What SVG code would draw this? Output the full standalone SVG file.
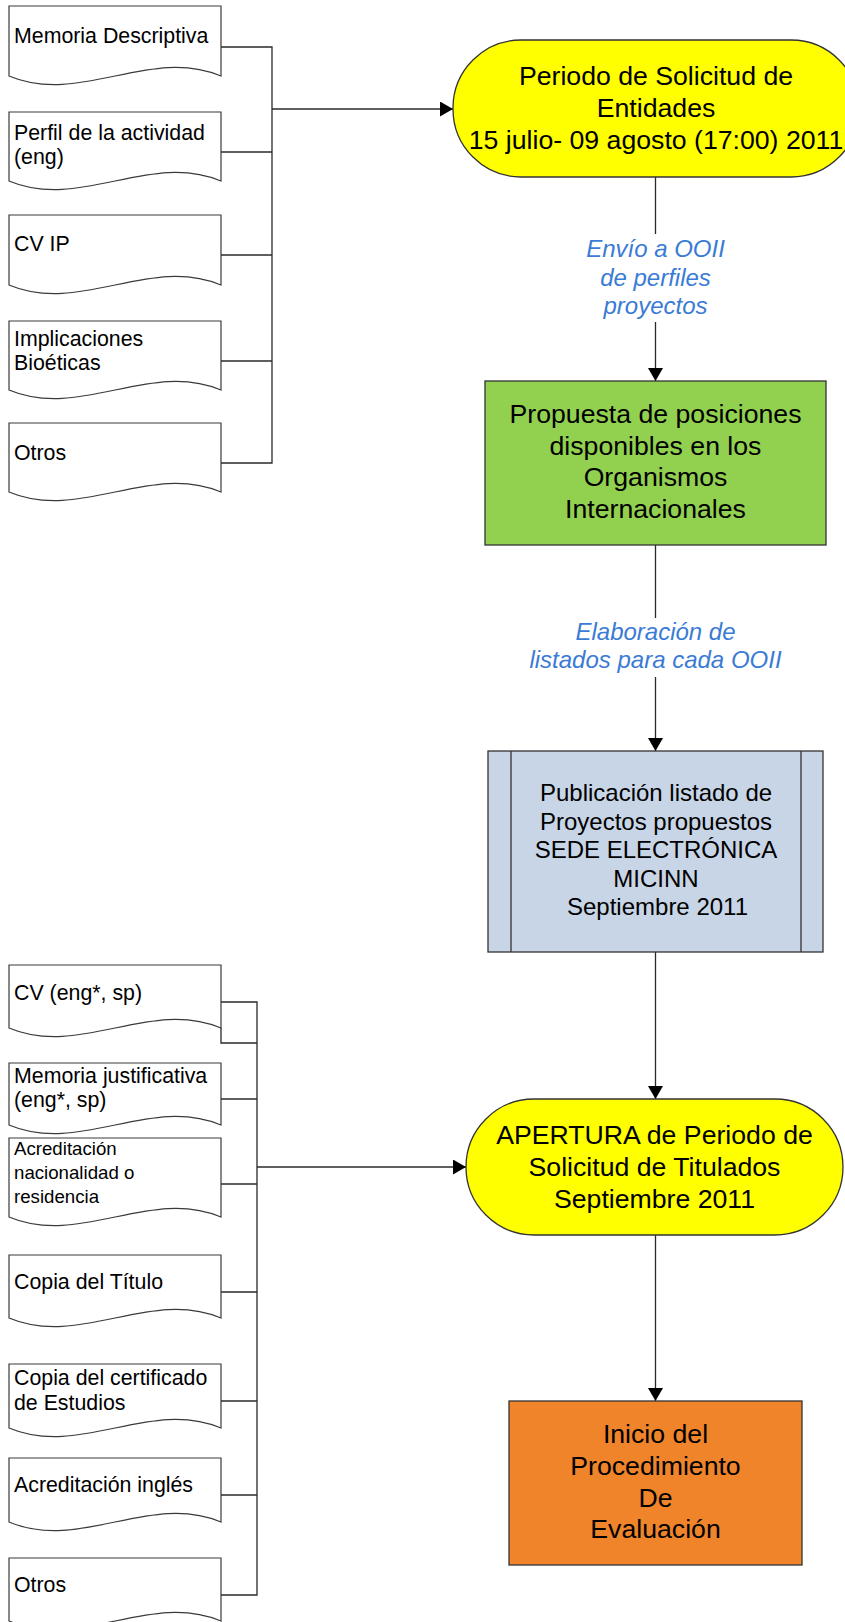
<svg xmlns="http://www.w3.org/2000/svg" width="845" height="1622" viewBox="0 0 845 1622">
<style>
.doc{fill:#fff;stroke:#3a3a3a;stroke-width:1.2}
.dt{font-family:"Liberation Sans",Arial,sans-serif;font-size:21.33px;fill:#000}
.ds{font-family:"Liberation Sans",Arial,sans-serif;font-size:18.67px;fill:#000}
.bt{font-family:"Liberation Sans",Arial,sans-serif;font-size:26.67px;fill:#000;text-anchor:middle}
.mt{font-family:"Liberation Sans",Arial,sans-serif;font-size:24px;fill:#000;text-anchor:middle}
.lab{font-family:"Liberation Sans",Arial,sans-serif;font-size:24px;font-style:italic;fill:#3a7bd5;text-anchor:middle}
.c{fill:none;stroke:#2a2a2a;stroke-width:1.3}
.box{stroke:#333;stroke-width:1.3}
</style>
<defs>
<marker id="ah" viewBox="0 0 13 15" refX="13" refY="7.5" markerWidth="13" markerHeight="15" orient="auto" markerUnits="userSpaceOnUse">
<path d="M0,0 L13,7.5 L0,15 Z" fill="#000"/>
</marker>
</defs>

<g id="connectors">
<path class="c" d="M221,47 H272 V463 H221"/>
<path class="c" d="M221,152 H272"/>
<path class="c" d="M221,255 H272"/>
<path class="c" d="M221,361 H272"/>
<path class="c" d="M272,109 H453" marker-end="url(#ah)"/>
<path class="c" d="M655.5,177 V234"/>
<path class="c" d="M655.5,322 V381" marker-end="url(#ah)"/>
<path class="c" d="M655.5,545 V618"/>
<path class="c" d="M655.5,677 V751" marker-end="url(#ah)"/>
<path class="c" d="M655.5,952 V1099" marker-end="url(#ah)"/>
<path class="c" d="M655.5,1235 V1401" marker-end="url(#ah)"/>
<path class="c" d="M221,1002 H257 V1595 H221"/>
<path class="c" d="M221,1028 V1043 H257"/>
<path class="c" d="M221,1099 H257"/>
<path class="c" d="M221,1184 H257"/>
<path class="c" d="M221,1292 H257"/>
<path class="c" d="M221,1401 H257"/>
<path class="c" d="M221,1495 H257"/>
<path class="c" d="M257,1167 H466" marker-end="url(#ah)"/>
</g>

<g id="label1">
<text class="lab" x="655.5" y="257">Envío a OOII</text>
<text class="lab" x="655.5" y="285.5">de perfiles</text>
<text class="lab" x="655.5" y="314">proyectos</text>
</g>
<g id="label2">
<text class="lab" x="655.5" y="640">Elaboración de</text>
<text class="lab" x="655.5" y="668">listados para cada OOII</text>
</g>

<g id="doc-memoria-descriptiva">
<path class="doc" d="M9,6 H221 V76 C150,46 80,106 9,76 Z"/>
<text class="dt" x="14" y="43">Memoria Descriptiva</text>
</g>
<g id="doc-perfil">
<path class="doc" d="M9,112 H221 V181 C150,151 80,211 9,181 Z"/>
<text class="dt" x="14" y="140">Perfil de la actividad</text>
<text class="dt" x="14" y="164">(eng)</text>
</g>
<g id="doc-cv-ip">
<path class="doc" d="M9,215 H221 V285 C150,255 80,315 9,285 Z"/>
<text class="dt" x="14" y="251">CV IP</text>
</g>
<g id="doc-implicaciones">
<path class="doc" d="M9,321 H221 V390 C150,360 80,420 9,390 Z"/>
<text class="dt" x="14" y="346">Implicaciones</text>
<text class="dt" x="14" y="370">Bioéticas</text>
</g>
<g id="doc-otros-1">
<path class="doc" d="M9,423 H221 V492 C150,462 80,522 9,492 Z"/>
<text class="dt" x="14" y="460">Otros</text>
</g>

<g id="node-periodo-entidades">
<rect class="box" x="453" y="40" width="406" height="137" rx="68" ry="68" fill="#FFFF00"/>
<text class="bt" x="656" y="85">Periodo de Solicitud de</text>
<text class="bt" x="656" y="117">Entidades</text>
<text class="bt" x="656" y="149">15 julio- 09 agosto (17:00) 2011</text>
</g>

<g id="node-propuesta">
<rect class="box" x="485" y="381" width="341" height="164" fill="#92D050"/>
<text class="bt" x="655.5" y="423">Propuesta de posiciones</text>
<text class="bt" x="655.5" y="454.5">disponibles en los</text>
<text class="bt" x="655.5" y="486">Organismos</text>
<text class="bt" x="655.5" y="517.5">Internacionales</text>
</g>

<g id="node-publicacion">
<rect class="box" x="488" y="751" width="335" height="201" fill="#C8D5E6"/>
<line class="box" x1="511" y1="751" x2="511" y2="952"/>
<line class="box" x1="801" y1="751" x2="801" y2="952"/>
<text class="mt" x="656" y="801">Publicación listado de</text>
<text class="mt" x="656" y="829.5">Proyectos propuestos</text>
<text class="mt" x="656" y="858">SEDE ELECTRÓNICA</text>
<text class="mt" x="656" y="886.5">MICINN</text>
<text class="mt" x="657.5" y="915">Septiembre 2011</text>
</g>

<g id="doc-cv">
<path class="doc" d="M9,965 H221 V1028 C150,998 80,1058 9,1028 Z"/>
<text class="dt" x="14" y="1000">CV (eng*, sp)</text>
</g>
<g id="doc-memoria-justificativa">
<path class="doc" d="M9,1063 H221 V1125 C150,1095 80,1155 9,1125 Z"/>
<text class="dt" x="14" y="1083">Memoria justificativa</text>
<text class="dt" x="14" y="1107">(eng*, sp)</text>
</g>
<g id="doc-acreditacion-nacionalidad">
<path class="doc" d="M9,1138 H221 V1217 C150,1187 80,1247 9,1217 Z"/>
<text class="ds" x="14" y="1155">Acreditación</text>
<text class="ds" x="14" y="1179">nacionalidad o</text>
<text class="ds" x="14" y="1203">residencia</text>
</g>
<g id="doc-copia-titulo">
<path class="doc" d="M9,1255 H221 V1318 C150,1288 80,1348 9,1318 Z"/>
<text class="dt" x="14" y="1289">Copia del Título</text>
</g>
<g id="doc-copia-certificado">
<path class="doc" d="M9,1364 H221 V1428 C150,1398 80,1458 9,1428 Z"/>
<text class="dt" x="14" y="1385">Copia del certificado</text>
<text class="dt" x="14" y="1410">de Estudios</text>
</g>
<g id="doc-acreditacion-ingles">
<path class="doc" d="M9,1458 H221 V1522 C150,1492 80,1552 9,1522 Z"/>
<text class="dt" x="14" y="1492">Acreditación inglés</text>
</g>
<g id="doc-otros-2">
<path class="doc" d="M9,1558 H221 V1621 C150,1591 80,1651 9,1621 Z"/>
<text class="dt" x="14" y="1592">Otros</text>
</g>

<g id="node-apertura">
<rect class="box" x="466" y="1099" width="377" height="136" rx="68" ry="68" fill="#FFFF00"/>
<text class="bt" x="654.5" y="1144">APERTURA de Periodo de</text>
<text class="bt" x="654.5" y="1176">Solicitud de Titulados</text>
<text class="bt" x="654.5" y="1208">Septiembre 2011</text>
</g>

<g id="node-inicio">
<rect class="box" x="509" y="1401" width="293" height="164" fill="#F0842A"/>
<text class="bt" x="655.5" y="1443">Inicio del</text>
<text class="bt" x="655.5" y="1475">Procedimiento</text>
<text class="bt" x="655.5" y="1507">De</text>
<text class="bt" x="655.5" y="1538">Evaluación</text>
</g>
</svg>
